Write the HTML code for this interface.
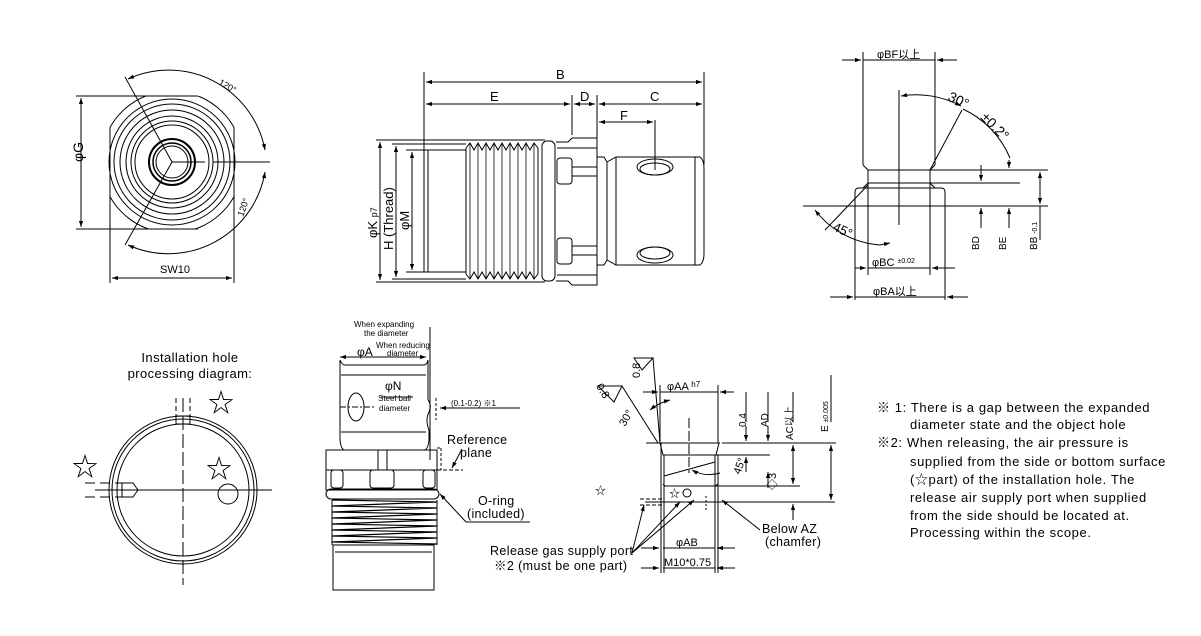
<!DOCTYPE html>
<html><head><meta charset="utf-8"><style>
body{margin:0;background:#fff;}
svg{display:block;font-family:"Liberation Sans","Noto Sans CJK SC",sans-serif;}
</style></head><body>
<svg width="1201" height="636" viewBox="0 0 1201 636" xmlns="http://www.w3.org/2000/svg">
<defs>
<marker id="a" viewBox="0 0 10 10" refX="10" refY="5" markerWidth="9" markerHeight="6" orient="auto-start-reverse"><path d="M0,1.5L10,5L0,8.5z" fill="#000"/></marker>
<clipPath id="hx"><rect x="110" y="96" width="124" height="133"/></clipPath>
</defs>
<g stroke="#000" fill="none" stroke-width="1">
<!-- TOP LEFT view -->
<g>
<g clip-path="url(#hx)"><circle cx="172" cy="162" r="71"/></g>
<line x1="146" y1="96" x2="198" y2="96"/><line x1="146" y1="229" x2="198" y2="229"/>
<line x1="110" y1="127" x2="110" y2="197"/><line x1="234" y1="127" x2="234" y2="197"/>
<circle cx="172" cy="162" r="63"/>
<circle cx="172" cy="162" r="58"/>
<circle cx="172" cy="162" r="52"/>
<circle cx="172" cy="162" r="46"/>
<circle cx="172" cy="162" r="41"/>
<circle cx="172" cy="162" r="37"/>
<circle cx="172" cy="162" r="23" stroke-width="2"/>
<circle cx="172" cy="162" r="19" stroke-width="1.5"/>
<circle cx="172" cy="162" r="16"/>
<line x1="172" y1="162" x2="125" y2="77"/>
<line x1="172" y1="162" x2="125" y2="245"/>
<line x1="172" y1="162" x2="205" y2="162"/>
<line x1="213" y1="162" x2="270" y2="162"/>
<path d="M128,79 A98,98 0 0 1 265,150" marker-start="url(#a)" marker-end="url(#a)"/>
<path d="M265,172 A98,98 0 0 1 128,245" marker-start="url(#a)" marker-end="url(#a)"/>
<line x1="76" y1="96" x2="160" y2="96"/><line x1="76" y1="229" x2="160" y2="229"/>
<line x1="81" y1="98" x2="81" y2="227" marker-start="url(#a)" marker-end="url(#a)"/>
<line x1="110" y1="196" x2="110" y2="283"/><line x1="234" y1="196" x2="234" y2="283"/>
<line x1="112" y1="278" x2="232" y2="278" marker-start="url(#a)" marker-end="url(#a)"/>
</g>
<!-- TOP MIDDLE view -->
<g>
<line x1="424" y1="72" x2="424" y2="272"/><line x1="704" y1="72" x2="704" y2="165"/>
<line x1="572" y1="95" x2="572" y2="135"/><line x1="597" y1="95" x2="597" y2="160"/>
<line x1="655" y1="120" x2="655" y2="170"/>
<line x1="426" y1="82" x2="702" y2="82" marker-start="url(#a)" marker-end="url(#a)"/>
<line x1="426" y1="104" x2="570" y2="104" marker-start="url(#a)" marker-end="url(#a)"/>
<line x1="574" y1="104" x2="595" y2="104" marker-start="url(#a)" marker-end="url(#a)"/>
<line x1="599" y1="104" x2="702" y2="104" marker-start="url(#a)" marker-end="url(#a)"/>
<line x1="599" y1="122" x2="653" y2="122" marker-start="url(#a)" marker-end="url(#a)"/>
<line x1="376" y1="140" x2="545" y2="140"/><line x1="376" y1="282" x2="545" y2="282"/>
<line x1="392" y1="144" x2="466" y2="144"/><line x1="392" y1="279" x2="466" y2="279"/>
<line x1="406" y1="150" x2="466" y2="150"/><line x1="406" y1="272" x2="466" y2="272"/>
<line x1="380" y1="142" x2="380" y2="280" marker-start="url(#a)" marker-end="url(#a)"/>
<line x1="396" y1="146" x2="396" y2="277" marker-start="url(#a)" marker-end="url(#a)"/>
<line x1="412" y1="152" x2="412" y2="270" marker-start="url(#a)" marker-end="url(#a)"/>
<rect x="424" y="150" width="4" height="122"/>
<path d="M466,148 L470,143 L474,150 L478,143 L482,150 L486,143 L490,150 L494,143 L498,150 L502,143 L506,150 L510,143 L514,150 L518,143 L522,150 L526,143 L530,150 L534,143 L538,148"/>
<path d="M466,274 L470,279 L474,272 L478,279 L482,272 L486,279 L490,272 L494,279 L498,272 L502,279 L506,272 L510,279 L514,272 L518,279 L522,272 L526,279 L530,272 L534,279 L538,274"/>
<g stroke-width="0.8">
<line x1="470" y1="143" x2="470" y2="279"/><line x1="478" y1="143" x2="478" y2="279"/><line x1="486" y1="143" x2="486" y2="279"/><line x1="494" y1="143" x2="494" y2="279"/><line x1="502" y1="143" x2="502" y2="279"/><line x1="510" y1="143" x2="510" y2="279"/><line x1="518" y1="143" x2="518" y2="279"/><line x1="526" y1="143" x2="526" y2="279"/><line x1="534" y1="143" x2="534" y2="279"/>
</g>
<line x1="466" y1="148" x2="466" y2="274"/><line x1="538" y1="148" x2="538" y2="274"/>
<rect x="542" y="141" width="13" height="140" rx="5"/>
<path d="M556,142 L568,142 L572,138 L597,138 L597,285 L572,285 L568,281 L556,281"/>
<rect x="557" y="158" width="15" height="26" rx="3"/><rect x="557" y="238" width="15" height="26" rx="3"/>
<line x1="572" y1="167" x2="597" y2="167"/><line x1="572" y1="176" x2="597" y2="176"/>
<line x1="572" y1="246" x2="597" y2="246"/><line x1="572" y1="255" x2="597" y2="255"/>
<line x1="557" y1="148" x2="597" y2="148"/><line x1="557" y1="275" x2="597" y2="275"/>
<path d="M597,157 L604,157 L607,162 L607,260 L604,265 L597,265"/>
<path d="M607,162 L616,157 L700,157 Q704,160 704,168 L704,254 Q704,262 700,265 L616,265 L607,260"/>
<line x1="616" y1="157" x2="616" y2="265"/><line x1="695" y1="157" x2="695" y2="265"/>
<ellipse cx="655" cy="167" rx="18" ry="8"/><ellipse cx="655" cy="169" rx="15" ry="6"/>
<ellipse cx="655" cy="255" rx="18" ry="8"/><ellipse cx="655" cy="253" rx="15" ry="6"/>
</g>
<!-- TOP RIGHT view -->
<g>
<line x1="863" y1="52" x2="863" y2="165"/><line x1="935" y1="52" x2="935" y2="165"/>
<line x1="842" y1="60" x2="861" y2="60" marker-end="url(#a)"/><line x1="863" y1="60" x2="935" y2="60"/><line x1="957" y1="60" x2="937" y2="60" marker-end="url(#a)"/>
<line x1="899" y1="90" x2="899" y2="225"/>
<path d="M863,165 L868,170 L868,183 L863,188 M935,165 L930,170 L930,183 L935,188"/>
<line x1="868" y1="170" x2="930" y2="170"/><line x1="868" y1="183" x2="930" y2="183"/>
<path d="M855,206 L855,192 Q855,188 859,188 L941,188 Q945,188 945,192 L945,300"/>
<line x1="855" y1="206" x2="855" y2="300"/>
<line x1="868" y1="183" x2="868" y2="275"/><line x1="930" y1="183" x2="930" y2="275"/>
<line x1="803" y1="206" x2="1048" y2="206"/>
<line x1="930" y1="170" x2="1048" y2="170"/><line x1="930" y1="183" x2="1020" y2="183"/>
<line x1="930" y1="170" x2="962" y2="110"/>
<line x1="868" y1="185" x2="825" y2="230"/>
<path d="M901,96 A95,95 0 0 1 961,106" marker-start="url(#a)" marker-end="url(#a)"/>
<path d="M963,109 A95,95 0 0 1 1010,158"/>
<path d="M815,210 A90,90 0 0 0 880,245" marker-start="url(#a)"/><line x1="880" y1="245" x2="890" y2="243" marker-end="url(#a)"/>
<line x1="981" y1="165" x2="981" y2="181" marker-end="url(#a)"/><line x1="981" y1="228" x2="981" y2="208" marker-end="url(#a)"/>
<line x1="1009" y1="160" x2="1009" y2="168" marker-end="url(#a)"/><line x1="1009" y1="228" x2="1009" y2="208" marker-end="url(#a)"/>
<line x1="1040" y1="172" x2="1040" y2="204" marker-start="url(#a)" marker-end="url(#a)"/><line x1="1040" y1="206" x2="1040" y2="240"/>
<line x1="855" y1="268" x2="866" y2="268" marker-end="url(#a)"/><line x1="868" y1="268" x2="930" y2="268"/><line x1="955" y1="268" x2="932" y2="268" marker-end="url(#a)"/>
<line x1="830" y1="297" x2="853" y2="297" marker-end="url(#a)"/><line x1="855" y1="297" x2="945" y2="297"/><line x1="968" y1="297" x2="947" y2="297" marker-end="url(#a)"/>
</g>
<!-- BOTTOM LEFT -->
<g>
<circle cx="183" cy="490" r="74"/><circle cx="183" cy="490" r="71"/><circle cx="183" cy="490" r="66"/>
<line x1="183" y1="398" x2="183" y2="585" stroke-dasharray="14,4"/>
<line x1="176" y1="398" x2="176" y2="420" stroke-dasharray="5,3"/><line x1="190" y1="398" x2="190" y2="420" stroke-dasharray="5,3"/>
<rect x="176" y="416" width="14" height="8"/>
<line x1="95" y1="490" x2="272" y2="490"/>
<line x1="85" y1="483" x2="122" y2="483" stroke-dasharray="10,5"/><line x1="85" y1="497" x2="122" y2="497" stroke-dasharray="10,5"/>
<path d="M122,483 L133,483 L138,490 L133,497 L122,497 Z"/>
<circle cx="228" cy="494" r="10"/>
</g>
<!-- BOTTOM MIDDLE -->
<g>
<line x1="430" y1="327" x2="430" y2="460"/>
<line x1="340" y1="357" x2="426" y2="357" marker-start="url(#a)" marker-end="url(#a)"/>
<path d="M340,360 Q342,365 345,365 L424,365 Q427,365 428,360"/>
<line x1="340" y1="360" x2="340" y2="440"/><line x1="428" y1="360" x2="428" y2="400"/>
<path d="M428,400 Q432,405 429,412 Q425,420 429,430 L429,440"/>
<path d="M340,440 Q341,450 345,450 M429,440 Q428,450 424,450"/>
<line x1="341" y1="375" x2="426" y2="375"/><line x1="341" y1="432" x2="426" y2="432"/>
<ellipse cx="356" cy="407" rx="8" ry="14"/>
<line x1="340" y1="407" x2="375" y2="407" stroke-dasharray="6,2,2,2"/>
<line x1="381" y1="397" x2="413" y2="397"/>
<line x1="436" y1="398" x2="436" y2="420" stroke-dasharray="3,2"/>
<line x1="520" y1="408" x2="440" y2="408" marker-end="url(#a)"/>
<rect x="326" y="450" width="111" height="40"/>
<line x1="326" y1="470" x2="437" y2="470"/>
<rect x="331" y="470" width="12" height="18" rx="3"/><rect x="370" y="470" width="24" height="18" rx="3"/><rect x="423" y="470" width="12" height="18" rx="3"/>
<line x1="378" y1="450" x2="378" y2="470"/><line x1="387" y1="450" x2="387" y2="470"/>
<line x1="437" y1="448" x2="441" y2="448" stroke-dasharray="3,2"/><line x1="441" y1="448" x2="441" y2="470" stroke-dasharray="3,2"/>
<line x1="437" y1="470" x2="463" y2="470" stroke-dasharray="4,2"/>
<line x1="462" y1="449" x2="452" y2="468" marker-end="url(#a)"/>
<rect x="326" y="489" width="113" height="10" rx="5"/>
<path d="M332,500 L437,502 L332,506 L437,508 L332,512 L437,514 L332,518 L437,520 L332,524 L437,526 L332,530 L437,532 L332,536 L437,538 L332,542 L437,544" stroke-width="1.2"/>
<line x1="332" y1="500" x2="332" y2="545"/><line x1="437" y1="500" x2="437" y2="545"/>
<rect x="333" y="545" width="101" height="45"/>
<line x1="335" y1="552" x2="432" y2="552"/>
<line x1="466" y1="522" x2="530" y2="522"/><line x1="466" y1="522" x2="440" y2="494" marker-end="url(#a)"/>
</g>
<!-- BOTTOM RIGHT hole -->
<g>
<path d="M634,358 L653,358 L642,370 Z"/><line x1="653" y1="358" x2="660" y2="443"/>
<path d="M598,386 L622,386 L614,402 Z"/><line x1="622" y1="386" x2="658" y2="443"/>
<path d="M650,410 A50,50 0 0 1 670,400" marker-start="url(#a)" marker-end="url(#a)"/>
<line x1="660" y1="385" x2="660" y2="443"/><line x1="718" y1="385" x2="718" y2="443"/>
<line x1="643" y1="392" x2="658" y2="392" marker-end="url(#a)"/><line x1="660" y1="392" x2="718" y2="392"/><line x1="734" y1="392" x2="720" y2="392" marker-end="url(#a)"/>
<line x1="689" y1="418" x2="689" y2="473" stroke-dasharray="10,3"/>
<line x1="646" y1="443" x2="720" y2="443"/><line x1="722" y1="443" x2="836" y2="443"/>
<path d="M660,443 L663,455 L716,455 L719,443"/>
<line x1="663" y1="455" x2="770" y2="455"/>
<line x1="661" y1="443" x2="661" y2="573"/><line x1="664" y1="455" x2="664" y2="573"/>
<line x1="715" y1="455" x2="715" y2="573"/><line x1="718" y1="455" x2="718" y2="573"/>
<line x1="664" y1="476" x2="715" y2="462"/>
<path d="M663,484 L665,486 L715,486 L718,484"/>
<line x1="664" y1="486" x2="800" y2="486"/>
<line x1="645" y1="502" x2="835" y2="502"/>
<path d="M692,470 A35,35 0 0 0 720,473" marker-start="url(#a)"/>
<line x1="640" y1="499" x2="662" y2="499" stroke-dasharray="4,2"/><line x1="640" y1="505" x2="662" y2="505" stroke-dasharray="4,2"/>
<circle cx="687" cy="493" r="4"/>
<line x1="706" y1="496" x2="706" y2="510" stroke-dasharray="2,2"/>
<line x1="746" y1="392" x2="746" y2="422"/><line x1="768" y1="392" x2="768" y2="422"/><line x1="793" y1="392" x2="793" y2="422"/><line x1="831" y1="375" x2="831" y2="422"/>
<line x1="746" y1="426" x2="746" y2="441" marker-end="url(#a)"/><line x1="746" y1="472" x2="746" y2="457" marker-end="url(#a)"/>
<line x1="768" y1="426" x2="768" y2="441" marker-end="url(#a)"/><line x1="768" y1="472" x2="768" y2="488" marker-start="url(#a)"/>
<line x1="793" y1="445" x2="793" y2="484" marker-start="url(#a)" marker-end="url(#a)"/><line x1="793" y1="520" x2="793" y2="504" marker-end="url(#a)"/>
<line x1="831" y1="445" x2="831" y2="500" marker-start="url(#a)" marker-end="url(#a)"/>
<line x1="641" y1="548" x2="659" y2="548" marker-end="url(#a)"/><line x1="663" y1="548" x2="715" y2="548"/><line x1="735" y1="548" x2="717" y2="548" marker-end="url(#a)"/>
<line x1="641" y1="568" x2="659" y2="568" marker-end="url(#a)"/><line x1="663" y1="568" x2="715" y2="568"/><line x1="735" y1="568" x2="717" y2="568" marker-end="url(#a)"/>
<line x1="632" y1="553" x2="644" y2="505" marker-end="url(#a)"/>
<line x1="632" y1="553" x2="680" y2="502" marker-end="url(#a)"/>
<line x1="632" y1="553" x2="694" y2="500" marker-end="url(#a)"/>
<line x1="760" y1="530" x2="722" y2="500" marker-end="url(#a)"/>
</g>
</g>
<g fill="#000" font-size="13">
<text x="75" y="170" transform="rotate(-90 75 162)" font-size="14">φG</text>
<text x="160" y="273" font-size="11">SW10</text>
<text x="218" y="84" font-size="9" transform="rotate(30 218 84)">120°</text>
<text x="243" y="217" font-size="9" transform="rotate(-70 243 217)">120°</text>
<text x="556" y="79" font-size="13">B</text>
<text x="490" y="101" font-size="13">E</text>
<text x="580" y="101" font-size="13">D</text>
<text x="650" y="101" font-size="13">C</text>
<text x="620" y="120" font-size="13">F</text>
<text transform="translate(377,238) rotate(-90)" font-size="13">φK <tspan font-size="9">p7</tspan></text>
<text transform="translate(393,250) rotate(-90)" font-size="13">H (Thread)</text>
<text transform="translate(409,230) rotate(-90)" font-size="13">φM</text>
<text x="877" y="58" font-size="11">φBF以上</text>
<text x="947" y="100" font-size="14" transform="rotate(25 947 100)">30°</text>
<text x="980" y="118" font-size="14" transform="rotate(45 980 118)">±0.2°</text>
<text x="832" y="230" font-size="13" transform="rotate(25 832 230)">45°</text>
<text x="872" y="266" font-size="11">φBC <tspan font-size="7" dy="-3">±0.02</tspan></text>
<text x="873" y="295" font-size="11">φBA以上</text>
<text transform="translate(979,250) rotate(-90)" font-size="10">BD</text>
<text transform="translate(1006,250) rotate(-90)" font-size="10">BE</text>
<text transform="translate(1037,250) rotate(-90)" font-size="10">BB <tspan font-size="7">-0.1</tspan></text>
<text x="190" y="362" text-anchor="middle" font-size="13" letter-spacing="0.4">Installation hole</text>
<text x="190" y="378" text-anchor="middle" font-size="13" letter-spacing="0.4">processing diagram:</text>
<text x="208" y="412" font-size="26">☆</text>
<text x="72" y="476" font-size="26">☆</text>
<text x="206" y="478" font-size="26">☆</text>
<text x="354" y="327" font-size="8">When expanding</text>
<text x="364" y="336" font-size="8">the diameter</text>
<text x="376" y="348" font-size="8">When reducing</text>
<text x="387" y="356" font-size="8">diameter</text>
<text x="357" y="356" font-size="12">φA</text>
<text x="385" y="390" font-size="12">φN</text>
<text x="378" y="401" font-size="8">Steel ball</text>
<text x="379" y="411" font-size="8">diameter</text>
<text x="451" y="406" font-size="8">(0.1-0.2)  ※1</text>
<text x="447" y="444" font-size="12.5" letter-spacing="0.3">Reference</text>
<text x="460" y="457" font-size="12.5" letter-spacing="0.3">plane</text>
<text x="478" y="505" font-size="12.5" letter-spacing="0.3">O-ring</text>
<text x="467" y="518" font-size="12.5" letter-spacing="0.3">(included)</text>
<text x="490" y="555" font-size="12.5" letter-spacing="0.4">Release gas supply port</text>
<text x="494" y="570" font-size="12.5" letter-spacing="0.4">※2 (must be one part)</text>
<text transform="translate(640,378) rotate(-90)" font-size="11">0.8</text>
<text transform="translate(596,386) rotate(60)" font-size="11">0.8</text>
<text transform="translate(625,427) rotate(-60)" font-size="11">30°</text>
<text x="667" y="390" font-size="11">φAA <tspan font-size="8" dy="-3">h7</tspan></text>
<text transform="translate(746,427) rotate(-90)" font-size="10">0.4</text>
<text transform="translate(768,427) rotate(-90)" font-size="10">AD</text>
<text transform="translate(793,440) rotate(-90)" font-size="10">AC以上</text>
<text transform="translate(828,432) rotate(-90)" font-size="10">E <tspan font-size="7">±0.005</tspan></text>
<text transform="translate(740,475) rotate(-70)" font-size="11">45°</text>
<text transform="translate(776,490) rotate(-90)" font-size="11">◇3</text>
<text x="669" y="497" font-size="11">☆</text>
<text x="595" y="494" font-size="11">☆</text>
<text x="676" y="546" font-size="11">φAB</text>
<text x="664" y="566" font-size="11">M10*0.75</text>
<text x="762" y="533" font-size="12.5" letter-spacing="0.3">Below AZ</text>
<text x="765" y="546" font-size="12.5" letter-spacing="0.3">(chamfer)</text>
<g font-size="13" letter-spacing="0.6">
<text x="877" y="412">※ 1: There is a gap between the expanded</text>
<text x="910" y="429">diameter state and the object hole</text>
<text x="877" y="447">※2: When releasing, the air pressure is</text>
<text x="910" y="466">supplied from the side or bottom surface</text>
<text x="910" y="484">(☆part) of the installation hole. The</text>
<text x="910" y="502">release air supply port when supplied</text>
<text x="910" y="520">from the side should be located at.</text>
<text x="910" y="537">Processing within the scope.</text>
</g>
</g>
</svg>
</body></html>
